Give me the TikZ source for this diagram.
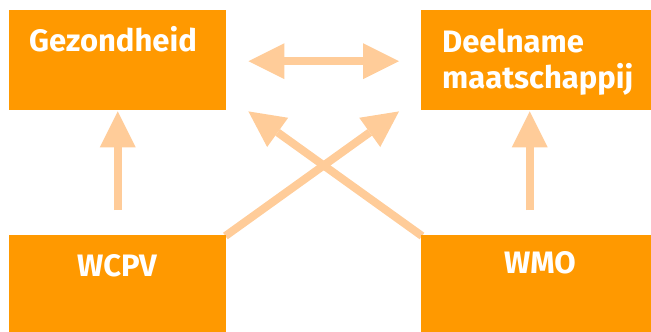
\documentclass[tikz,border=0pt]{standalone}
\usepackage{fontspec}
\setmainfont{Fira Sans}
\usetikzlibrary{arrows.meta,calc}
\definecolor{boxorange}{HTML}{FF9900}
\definecolor{arrowpeach}{HTML}{FFCC99}
\pgfdeclarelayer{background}
\pgfsetlayers{background,main}
\tikzset{
  block/.style={fill=boxorange, draw=none, inner sep=0pt, anchor=north west},
  caption/.style={text=white, font=\fontsize{31}{36}\selectfont\bfseries, inner sep=0pt},
  link/.style={draw=arrowpeach, line width=8pt,
    -{Triangle[width=36pt,length=36pt,line width=0pt 0]}},
  bilink/.style={draw=arrowpeach, line width=8pt,
    {Triangle[width=36pt,length=36pt,line width=0pt 0]}-{Triangle[width=36pt,length=36pt,line width=0pt 0]}}
}
\begin{document}
\begin{tikzpicture}[x=1pt,y=-1pt]
  \useasboundingbox (0,0) rectangle (651,332);

  % the four boxes
  \node[block, minimum width=217pt, minimum height=100pt] (tl) at (9,10) {};
  \node[block, minimum width=230pt, minimum height=100pt] (tr) at (421,10) {};
  \node[block, minimum width=217pt, minimum height=97pt] (bl) at (9,235) {};
  \node[block, minimum width=230pt, minimum height=97pt] (br) at (421,235) {};

  % box texts (the two-line one is anchored on its last baseline)
  \node[caption, anchor=base west] (tltext) at (29,51) {Gezondheid};
  \node[caption, anchor=base west, align=left] (trtext) at (442,88) {Deelname\\maatschappij};
  \node[caption, anchor=base] (bltext) at (117,276) {WCPV};
  \node[caption, anchor=base] (brtext) at (540,273) {WMO};

  % connectors, kept beneath the boxes
  \begin{pgfonlayer}{background}
    \draw[bilink] ($(tl.east)+(22,1)$) -- ($(tr.west)+(-22,1)$);
    \draw[link] ($(bl.north)+(0,-25)$) -- ($(tl.south)+(0,1)$);
    \draw[link] ($(br.north)+(-6.5,-25)$) -- ($(tr.south)+(-6.5,1)$);
    \draw[link] ($(bl.north east)+(-1,1)$) -- ($(tr.south west)+(-22,1)$);
    \draw[link] ($(br.north west)+(1,1)$) -- ($(tl.south east)+(22,1)$);
  \end{pgfonlayer}
\end{tikzpicture}
\end{document}
